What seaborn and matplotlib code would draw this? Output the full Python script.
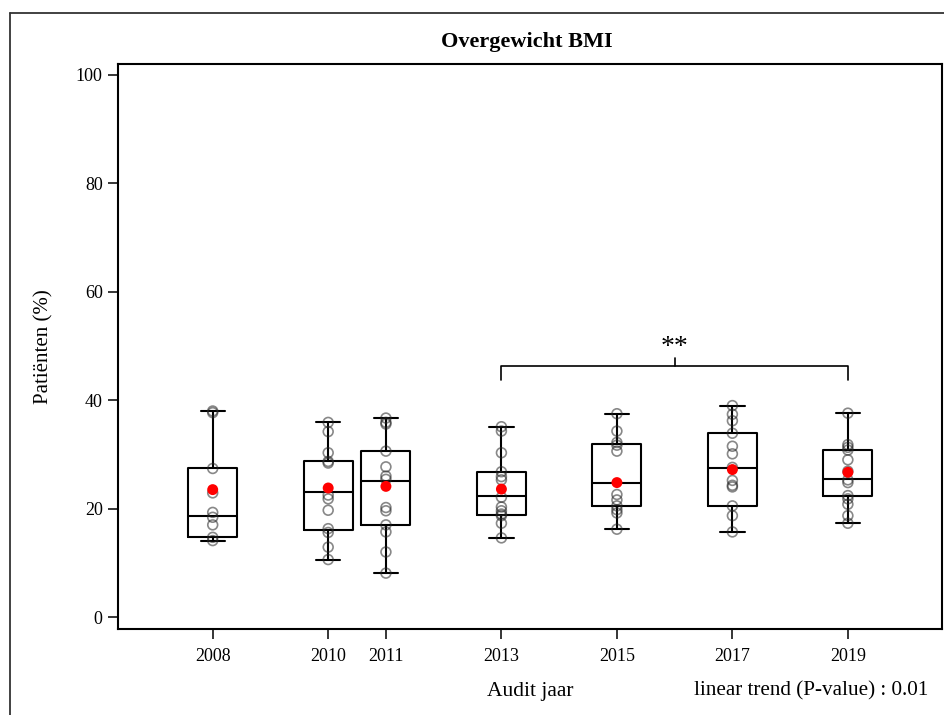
import matplotlib
matplotlib.use("Agg")
import matplotlib.pyplot as plt
from matplotlib.lines import Line2D
import pandas as pd
import seaborn as sns

# Audit years (numeric x axis) and their tick labels
years = [2008, 2010, 2011, 2013, 2015, 2017, 2019]
tick_labels = ["2008", "2010", "2011", "2013", "2015", "2017", "2019"]

# Percentage of overweight patients per centre, per audit year
pct_2008 = [38.0, 37.7, 27.4, 22.9, 19.3, 18.4, 17.0, 14.7, 14.1]
pct_2010 = [35.9, 34.2, 30.3, 28.7, 28.4, 22.5, 21.8, 19.7, 16.3, 15.6, 12.9, 10.6]
pct_2011 = [36.7, 35.9, 35.6, 30.6, 27.7, 26.0, 25.4, 20.2, 19.6, 17.0, 15.7, 12.0, 8.1]
pct_2013 = [35.1, 34.3, 30.3, 26.8, 25.9, 25.3, 22.1, 20.3, 19.6, 19.0, 18.7, 17.3, 14.6]
pct_2015 = [37.5, 34.3, 32.2, 31.7, 30.6, 22.6, 21.6, 20.5, 19.8, 19.2, 16.2]
pct_2017 = [39.0, 37.4, 36.2, 33.9, 31.5, 30.1, 27.6, 25.2, 24.3, 24.0, 20.5, 18.7, 15.7]
pct_2019 = [37.6, 31.8, 31.3, 30.8, 29.0, 26.9, 25.3, 24.8, 22.4, 21.8, 20.8, 18.7, 17.3]
per_year = [pct_2008, pct_2010, pct_2011, pct_2013, pct_2015, pct_2017, pct_2019]

# Box summaries per year and the overall (pooled) percentage
quartile_1 = [14.7, 16.1, 16.9, 18.9, 20.4, 20.5, 22.3]
median = [18.7, 23.1, 25.1, 22.4, 24.8, 27.5, 25.5]
quartile_3 = [27.4, 28.7, 30.6, 26.7, 32.0, 33.9, 30.8]
overall_mean = [23.5, 23.8, 24.1, 23.6, 24.8, 27.2, 26.7]

# Significance bracket between two audit years
bracket_years = [2013, 2019]
bracket_label = "**"

title = "Overgewicht BMI"
x_title = "Audit jaar"
y_title = "Patiënten (%)"
trend_note = "linear trend (P-value) : 0.01"

long = pd.DataFrame(
    [(yr, v) for yr, vals in zip(years, per_year) for v in vals],
    columns=["year", "pct"],
)
means = pd.DataFrame({"year": years, "pct": overall_mean})

sns.set_style("ticks")
plt.rcParams["font.family"] = ["Liberation Serif", "DejaVu Serif"]
plt.rcParams["text.color"] = "black"
plt.rcParams["axes.labelcolor"] = "black"

W, H = 944, 715
fig = plt.figure(figsize=(W / 100, H / 100), dpi=100)
ax = fig.add_axes([118 / W, 1 - 628.7 / H, 824 / W, 564.7 / H])

stats = [
    dict(med=m, q1=a, q3=b, whislo=min(v), whishi=max(v), fliers=[])
    for m, a, b, v in zip(median, quartile_1, quartile_3, per_year)
]
line = dict(color="black", linewidth=1.5)
ax.bxp(
    stats, positions=years, widths=0.85, capwidths=0.42, showfliers=False,
    manage_ticks=False, boxprops=line, whiskerprops=line, capprops=line,
    medianprops=line,
)

sns.scatterplot(
    data=long, x="year", y="pct", ax=ax, s=50, facecolors="none",
    edgecolor=(0.15, 0.15, 0.15, 0.55), linewidth=1.2, zorder=3, legend=False,
)
sns.scatterplot(
    data=means, x="year", y="pct", ax=ax, s=62, color="#ff0000",
    edgecolor="none", zorder=4, legend=False,
)

# significance bracket
x0, x1 = bracket_years
xm = (x0 + x1) / 2
ax.plot([x0, x0, x1, x1], [43.7, 46.3, 46.3, 43.7], color="black", lw=1.2, zorder=2)
ax.plot([xm, xm], [46.3, 47.7], color="black", lw=1.2, zorder=2)
ax.text(xm, 47.4, bracket_label, ha="center", va="bottom", fontsize=20)

ax.set_xlim(2006.36, 2020.63)
ax.set_ylim(-2.15, 102.0)
ax.set_xticks(years)
ax.set_xticklabels(tick_labels)
ax.set_yticks([0, 20, 40, 60, 80, 100])
ax.tick_params(axis="both", direction="out", length=7, width=1.1, labelsize=13,
               color="black", labelcolor="black")
ax.tick_params(axis="x", pad=7)
ax.tick_params(axis="y", pad=4)
for s in ax.spines.values():
    s.set_visible(True)
    s.set_color("black")
    s.set_linewidth(1.5)

ax.set_xlabel(x_title, fontsize=15.5)
ax.set_ylabel(y_title, fontsize=15)
ax.xaxis.set_label_coords(0.5, -0.095)
ax.yaxis.set_label_coords(-0.078, 0.5)

fig.text(527 / W, 1 - 42 / H, title, ha="center", va="center",
         fontsize=16, fontweight="bold")
fig.text(928 / W, 1 - 691 / H, trend_note, ha="right", va="center", fontsize=15.2)

# outer frame
frame = dict(transform=fig.transFigure, color="#333333", linewidth=1.3)
fig.add_artist(Line2D([10 / W, 10 / W], [0, 1 - 12.5 / H], **frame))
fig.add_artist(Line2D([10 / W, 1], [1 - 12.5 / H, 1 - 12.5 / H], **frame))

fig.savefig("out.png", dpi=100)
